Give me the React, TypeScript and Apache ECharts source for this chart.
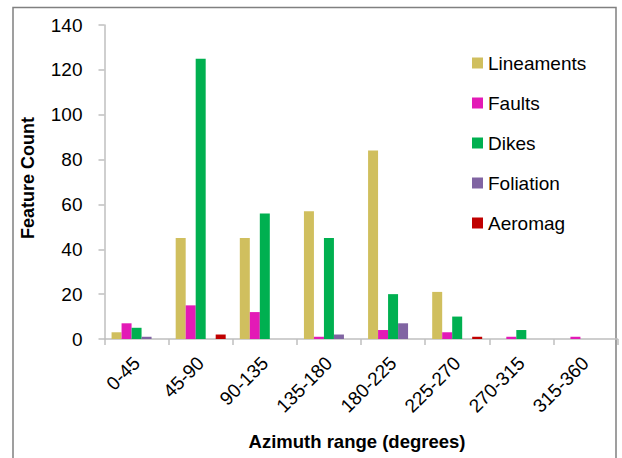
import React, { useEffect, useRef } from "react";
import * as echarts from "echarts";

const categories = ["0-45", "45-90", "90-135", "135-180", "180-225", "225-270", "270-315", "315-360"];
const lineaments = [3, 45, 45, 57, 84, 21, 0, 0];
const faults = [7, 15, 12, 1, 4, 3, 1, 1];
const dikes = [5, 125, 56, 45, 20, 10, 4, 0];
const foliation = [1, 0, 0, 2, 7, 0, 0, 0];
const aeromag = [0, 2, 0, 0, 0, 1, 0, 0];
const seriesNames = ["Lineaments", "Faults", "Dikes", "Foliation", "Aeromag"];
const seriesColors = ["#D0BF5E", "#E31AB6", "#00B050", "#8064A2", "#C00000"];

const FONT = "'Liberation Sans', Arial, sans-serif";

export default function App() {
  const ref = useRef<HTMLDivElement>(null);
  useEffect(() => {
    if (!ref.current) return;
    const chart = echarts.init(ref.current, null, { renderer: "svg" });
    const datas = [lineaments, faults, dikes, foliation, aeromag];
    chart.setOption({
      animation: false,
      backgroundColor: "#ffffff",
      textStyle: { fontFamily: FONT },
      grid: { left: 104.5, right: 4.5, top: 25, bottom: 119, containLabel: false },
      legend: {
        orient: "vertical",
        left: 467,
        top: 48,
        icon: "rect",
        itemWidth: 11,
        itemHeight: 11,
        itemGap: 20,
        data: seriesNames,
        textStyle: { fontFamily: FONT, fontSize: 19, color: "#000", lineHeight: 20 },
      },
      xAxis: {
        type: "category",
        data: categories,
        boundaryGap: true,
        axisLine: { show: true, lineStyle: { color: "#BFBFBF", width: 1.5 } },
        axisTick: { show: true, interval: 0, length: 6, lineStyle: { color: "#BFBFBF", width: 1.5 } },
        axisLabel: { interval: 0, rotate: 45, margin: 21, fontSize: 19, color: "#000", fontFamily: FONT },
        splitLine: { show: false },
      },
      yAxis: {
        type: "value",
        min: 0,
        max: 140,
        interval: 20,
        axisLine: { show: true, lineStyle: { color: "#BFBFBF", width: 1.5 } },
        axisTick: { show: true, length: 6, lineStyle: { color: "#BFBFBF", width: 1.5 } },
        axisLabel: { margin: 22, fontSize: 19, color: "#000", fontFamily: FONT },
        splitLine: { show: false },
      },
      graphic: [
        {
          type: "rect",
          shape: { x: 13, y: 7.5, width: 603, height: 520 },
          style: { fill: "none", stroke: "#808080", lineWidth: 1.5 },
          silent: true,
        },
        {
          type: "text",
          x: 28,
          y: 178,
          rotation: Math.PI / 2,
          style: {
            text: "Feature Count",
            fontFamily: FONT,
            fontSize: 18,
            fontWeight: "bold",
            fill: "#000",
            align: "center",
            verticalAlign: "middle",
          },
        },
        {
          type: "text",
          x: 357,
          y: 441,
          style: {
            text: "Azimuth range (degrees)",
            fontFamily: FONT,
            fontSize: 18.5,
            fontWeight: "bold",
            fill: "#000",
            align: "center",
            verticalAlign: "middle",
          },
        },
      ],
      series: seriesNames.map((name, i) => ({
        name,
        type: "bar",
        data: datas[i],
        barWidth: 10,
        barGap: "0%",
        itemStyle: { color: seriesColors[i] },
      })),
    });
    return () => chart.dispose();
  }, []);
  return (
    <div
      ref={ref}
      style={{ position: "fixed", left: 0, top: 0, width: 622, height: 458 }}
    />
  );
}
